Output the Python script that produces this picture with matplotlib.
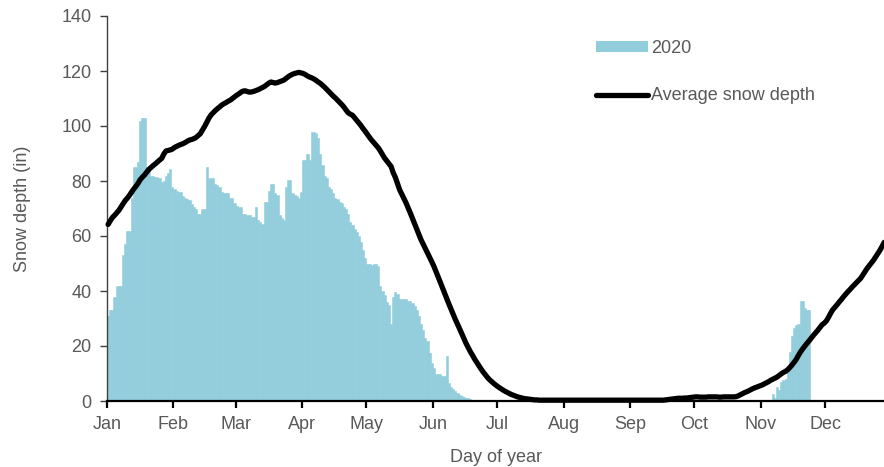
import numpy as np
import matplotlib
matplotlib.use("Agg")
import matplotlib.pyplot as plt
from matplotlib.lines import Line2D
from matplotlib.patches import Patch

# ---------------- data ----------------
month_labels = ["Jan", "Feb", "Mar", "Apr", "May", "Jun",
                "Jul", "Aug", "Sep", "Oct", "Nov", "Dec"]
month_start_days = [0, 31, 60, 91, 121, 152, 182, 213, 244, 274, 305, 335]

# 2020 daily snow depth (in), Jan 1 .. Jun 20 (days 0-171)
depth_2020_spring = [
    31, 33, 33, 38, 42, 42, 42, 53, 57, 62,
    62, 74, 85, 85, 87, 102, 103, 103, 85, 85,
    82, 82, 81.5, 81.5, 81, 79.5, 80, 82, 83, 84.5,
    78, 77, 76.5, 76, 76, 74.5, 74, 73.5, 73, 71.5,
    70.5, 70, 68, 68, 70, 70, 85, 81, 81, 81,
    79, 78.5, 78, 76, 75.5, 75.5, 75.5, 74, 74, 72,
    71, 70.5, 70.5, 68, 68, 67.5, 67.5, 67, 67, 70.5,
    66, 65, 64.5, 72.5, 72.5, 76.5, 79, 79, 75.5, 75,
    67.5, 66.5, 66, 78, 80.5, 80.5, 75.5, 75, 74.5, 74,
    76, 87.5, 87.5, 90, 87.5, 98, 98, 97.5, 95.5, 90,
    86, 82, 81, 78, 77, 75.5, 74, 73.5, 72.5, 72,
    70.5, 70, 68, 65, 64, 62.5, 61.5, 60, 58, 55,
    52, 50, 50, 49.5, 50, 50, 49, 42, 40, 38.5,
    36, 35, 28, 38, 39.5, 39, 37, 37, 37, 37,
    36.5, 36.5, 35.5, 34.5, 33, 31, 28, 26, 23, 22,
    17.5, 14, 12, 10, 10, 10, 9, 9, 16.5, 6.5,
    5, 4.2, 3.5, 3, 2.2, 1.8, 1.5, 1.2, 1, 0.8,
    0.5, 0.3,
]
# 2020 daily snow depth (in), Nov 6 .. Nov 23 (days 310-327)
fall_start_day = 310
depth_2020_fall = [
    2.5, 1, 5, 4, 7, 7.5, 8, 11, 18, 23.5,
    26.5, 27.5, 28, 36.5, 36.5, 34, 33, 33,
]

# Average snow depth (in), days 0-362
avg_depth = [
    64.2, 65.5, 66.7, 67.5, 68.4, 69.3, 70.5, 71.7, 72.9, 73.8,
    74.8, 76.0, 77.1, 78.1, 79.2, 80.5, 81.4, 82.2, 83.2, 84.2,
    84.9, 85.6, 86.2, 86.9, 87.6, 88.2, 89.8, 90.9, 91.1, 91.3,
    91.6, 92.2, 92.6, 93.0, 93.3, 93.6, 94.0, 94.5, 94.9, 95.1,
    95.4, 95.8, 96.5, 97.2, 98.5, 99.8, 101.3, 102.8, 104.0, 104.8,
    105.6, 106.3, 106.9, 107.6, 108.1, 108.5, 109.0, 109.4, 110.0, 110.6,
    111.2, 111.7, 112.3, 112.7, 112.8, 112.5, 112.3, 112.4, 112.6, 112.9,
    113.2, 113.6, 114.0, 114.4, 115.0, 115.6, 116.0, 115.8, 115.6, 115.8,
    116.1, 116.4, 116.7, 117.3, 117.9, 118.4, 118.8, 119.1, 119.3, 119.5,
    119.3, 119.1, 118.7, 118.2, 117.8, 117.5, 117.1, 116.6, 116.0, 115.5,
    114.8, 114.1, 113.3, 112.5, 111.7, 110.9, 110.2, 109.4, 108.6, 107.8,
    106.9, 105.8, 104.8, 104.3, 103.9, 103.0, 102.0, 101.1, 100.1, 99.0,
    98.0, 96.9, 95.8, 94.8, 93.9, 93.0, 92.1, 90.9, 89.6, 88.3,
    87.3, 86.3, 85.3, 83.0, 81.3, 79.0, 76.8, 75.2, 73.6, 72.0,
    70.2, 68.3, 66.4, 64.4, 62.4, 60.5, 58.6, 57.0, 55.4, 53.8,
    52.2, 50.6, 48.9, 47.0, 45.0, 43.1, 41.1, 39.1, 37.1, 35.2,
    33.3, 31.4, 29.6, 27.9, 26.2, 24.4, 22.6, 20.9, 19.4, 17.9,
    16.6, 15.2, 14.0, 12.8, 11.6, 10.5, 9.5, 8.5, 7.7, 7.0,
    6.3, 5.7, 5.1, 4.6, 4.1, 3.6, 3.2, 2.8, 2.4, 2.1,
    1.8, 1.5, 1.3, 1.1, 0.9, 0.8, 0.7, 0.6, 0.5, 0.4,
    0.4, 0.3, 0.3, 0.3, 0.3, 0.3, 0.3, 0.3, 0.3, 0.3,
    0.3, 0.3, 0.3, 0.3, 0.3, 0.3, 0.3, 0.3, 0.3, 0.3,
    0.3, 0.3, 0.3, 0.3, 0.3, 0.3, 0.3, 0.3, 0.3, 0.3,
    0.3, 0.3, 0.3, 0.3, 0.3, 0.3, 0.3, 0.3, 0.3, 0.3,
    0.3, 0.3, 0.3, 0.3, 0.3, 0.3, 0.3, 0.3, 0.3, 0.3,
    0.3, 0.3, 0.3, 0.3, 0.3, 0.3, 0.3, 0.3, 0.3, 0.3,
    0.4, 0.5, 0.6, 0.7, 0.8, 0.9, 1.0, 1.0, 1.0, 1.1,
    1.1, 1.2, 1.3, 1.4, 1.5, 1.5, 1.4, 1.4, 1.4, 1.4,
    1.5, 1.5, 1.5, 1.5, 1.5, 1.4, 1.4, 1.5, 1.5, 1.5,
    1.5, 1.5, 1.5, 1.6, 1.9, 2.3, 2.7, 3.1, 3.4, 3.8,
    4.2, 4.6, 4.9, 5.2, 5.5, 5.8, 6.2, 6.6, 7.0, 7.5,
    7.9, 8.3, 8.7, 9.3, 9.9, 10.4, 10.8, 11.4, 12.2, 13.1,
    14.1, 15.2, 16.6, 17.9, 19.0, 20.0, 21.0, 21.9, 22.9, 23.9,
    24.8, 25.7, 26.7, 27.7, 28.3, 29.1, 30.4, 31.9, 33.2, 34.1,
    35.0, 36.0, 36.9, 37.9, 38.8, 39.7, 40.5, 41.4, 42.2, 43.0,
    43.8, 44.6, 45.8, 47.0, 48.2, 49.2, 50.2, 51.2, 52.4, 53.6,
    54.8, 56.2, 57.7,
]

y_ticks = [0, 20, 40, 60, 80, 100, 120, 140]

# ---------------- build ----------------
n_days = len(avg_depth)
days = np.arange(n_days)
bars = np.zeros(n_days)
bars[:len(depth_2020_spring)] = depth_2020_spring
bars[fall_start_day:fall_start_day + len(depth_2020_fall)] = depth_2020_fall

plt.rcParams['font.family'] = ['Liberation Sans', 'DejaVu Sans']
text_color = '#595959'
bar_color = '#92CDDC'

W, H = 884, 467
fig = plt.figure(figsize=(W / 100, H / 100), dpi=100)
x0, x1, ytop, ybot = 107, 884, 16, 401
ax = fig.add_axes([x0 / W, (H - ybot) / H, (x1 - x0) / W, (ybot - ytop) / H])

ax.bar(days, bars, width=1.0, align='edge', color=bar_color,
       edgecolor=bar_color, linewidth=0.4, label='2020', zorder=2)
ax.plot(days + 0.5, avg_depth, color='black', lw=3.8, clip_on=False,
        solid_joinstyle='round', solid_capstyle='round',
        label='Average snow depth', zorder=3)

ax.set_xlim(0, 362.4)
ax.set_ylim(0, 140)
ax.set_xticks(month_start_days)
ax.set_xticklabels(month_labels)
ax.set_yticks(y_ticks)

for s in ['top', 'right']:
    ax.spines[s].set_visible(False)
ax.spines['left'].set_color('#404040')
ax.spines['left'].set_linewidth(1.0)
ax.spines['bottom'].set_color('black')
ax.spines['bottom'].set_linewidth(1.6)
ax.spines['bottom'].set_zorder(4)

ax.tick_params(axis='y', direction='out', length=5, width=1.0, color='#404040',
               labelsize=13, labelcolor=text_color, pad=6)
ax.tick_params(axis='x', direction='out', length=5, width=1.6, color='black',
               labelsize=13, labelcolor=text_color, pad=6)

ax.set_xlabel('Day of year', fontsize=13, color=text_color, labelpad=11)
ax.set_ylabel('Snow depth (in)', fontsize=13, color=text_color, labelpad=22)

handles = [Patch(facecolor=bar_color, edgecolor='none'),
           Line2D([0], [0], color='black', lw=3.8, solid_capstyle='round')]
leg = fig.legend(handles, ['2020', 'Average snow depth'],
                 loc='upper left', bbox_to_anchor=(596 / W, 1 - 40 / H),
                 frameon=False, fontsize=13, handlelength=2.9, handleheight=0.5,
                 handletextpad=0.15, labelspacing=1.68, borderpad=0,
                 borderaxespad=0)
for t in leg.get_texts():
    t.set_color(text_color)

fig.savefig('out.png', dpi=100)
